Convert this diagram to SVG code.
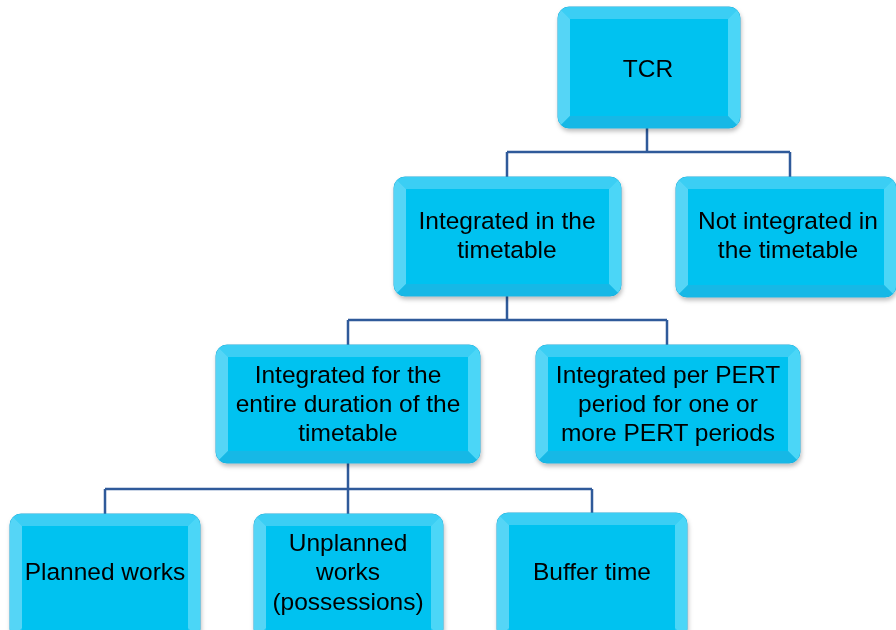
<svg xmlns="http://www.w3.org/2000/svg" width="896" height="630" viewBox="0 0 896 630">
<defs>
<style>
.base{fill:#22C6F1;stroke:#1FA9D6;stroke-width:1}
.face{fill:#02C2F0}
.lt{fill:#55D5F6}
.tp{fill:#3ACEF4}
.rt{fill:#4CD6F7}
.bt{fill:#14B8E6}
.lbl{font-family:"Liberation Sans",Arial,sans-serif;font-size:24.5px;fill:#000;text-anchor:middle}
.conn{fill:none;stroke:#2F5A9A;stroke-width:2.5}
</style>
<filter id="sh" x="-10%" y="-10%" width="120%" height="130%">
<feDropShadow dx="1" dy="3" stdDeviation="2" flood-color="#000" flood-opacity="0.25"/>
</filter>
<clipPath id="c1"><rect x="558" y="7" width="182" height="121" rx="11"/></clipPath>
<clipPath id="c2"><rect x="394" y="177" width="227" height="119" rx="11"/></clipPath>
<clipPath id="c3"><rect x="676" y="177" width="220" height="120" rx="11"/></clipPath>
<clipPath id="c4"><rect x="216" y="345" width="264" height="118" rx="11"/></clipPath>
<clipPath id="c5"><rect x="536" y="345" width="264" height="118" rx="11"/></clipPath>
<clipPath id="c6"><rect x="10" y="514" width="190" height="126" rx="11"/></clipPath>
<clipPath id="c7"><rect x="254" y="514" width="189" height="126" rx="11"/></clipPath>
<clipPath id="c8"><rect x="497" y="513" width="190" height="127" rx="11"/></clipPath>
</defs>
<rect width="896" height="630" fill="#fff"/>

<g id="connectors">
<path class="conn" d="M647 128V152M507 152H790M507 152V177M790 152V177"/>
<path class="conn" d="M507 296V320M348 320H667M348 320V345M667 320V345"/>
<path class="conn" d="M348 463V489M105 489H592M105 489V514M348 489V514M592 489V513"/>
</g>

<g id="node-tcr" filter="url(#sh)">
<rect class="base" x="558" y="7" width="182" height="121" rx="11"/>
<g clip-path="url(#c1)">
<polygon class="tp" points="558,7 740,7 728,19 570,19"/>
<polygon class="lt" points="558,7 570,19 570,116 558,128"/>
<polygon class="rt" points="740,7 740,128 728,116 728,19"/>
<polygon class="bt" points="558,128 740,128 728,116 570,116"/>
</g>
<rect class="face" x="570" y="19" width="158" height="97"/>
<text class="lbl" x="648" y="77">TCR</text>
</g>

<g id="node-integrated" filter="url(#sh)">
<rect class="base" x="394" y="177" width="227" height="119" rx="11"/>
<g clip-path="url(#c2)">
<polygon class="tp" points="394,177 621,177 609,189 406,189"/>
<polygon class="lt" points="394,177 406,189 406,284 394,296"/>
<polygon class="rt" points="621,177 621,296 609,284 609,189"/>
<polygon class="bt" points="394,296 621,296 609,284 406,284"/>
</g>
<rect class="face" x="406" y="189" width="203" height="95"/>
<text class="lbl" x="507" y="229">Integrated in the</text>
<text class="lbl" x="507" y="258">timetable</text>
</g>

<g id="node-not-integrated" filter="url(#sh)">
<rect class="base" x="676" y="177" width="220" height="120" rx="11"/>
<g clip-path="url(#c3)">
<polygon class="tp" points="676,177 896,177 884,189 688,189"/>
<polygon class="lt" points="676,177 688,189 688,285 676,297"/>
<polygon class="rt" points="896,177 896,297 884,285 884,189"/>
<polygon class="bt" points="676,297 896,297 884,285 688,285"/>
</g>
<rect class="face" x="688" y="189" width="196" height="96"/>
<text class="lbl" x="788" y="229">Not integrated in</text>
<text class="lbl" x="788" y="258">the timetable</text>
</g>

<g id="node-entire" filter="url(#sh)">
<rect class="base" x="216" y="345" width="264" height="118" rx="11"/>
<g clip-path="url(#c4)">
<polygon class="tp" points="216,345 480,345 468,357 228,357"/>
<polygon class="lt" points="216,345 228,357 228,451 216,463"/>
<polygon class="rt" points="480,345 480,463 468,451 468,357"/>
<polygon class="bt" points="216,463 480,463 468,451 228,451"/>
</g>
<rect class="face" x="228" y="357" width="240" height="94"/>
<text class="lbl" x="348" y="383">Integrated for the</text>
<text class="lbl" x="348" y="412">entire duration of the</text>
<text class="lbl" x="348" y="441">timetable</text>
</g>

<g id="node-pert" filter="url(#sh)">
<rect class="base" x="536" y="345" width="264" height="118" rx="11"/>
<g clip-path="url(#c5)">
<polygon class="tp" points="536,345 800,345 788,357 548,357"/>
<polygon class="lt" points="536,345 548,357 548,451 536,463"/>
<polygon class="rt" points="800,345 800,463 788,451 788,357"/>
<polygon class="bt" points="536,463 800,463 788,451 548,451"/>
</g>
<rect class="face" x="548" y="357" width="240" height="94"/>
<text class="lbl" x="668" y="383">Integrated per PERT</text>
<text class="lbl" x="668" y="412">period for one or</text>
<text class="lbl" x="668" y="441">more PERT periods</text>
</g>

<g id="node-planned" filter="url(#sh)">
<rect class="base" x="10" y="514" width="190" height="126" rx="11"/>
<g clip-path="url(#c6)">
<polygon class="tp" points="10,514 200,514 188,526 22,526"/>
<polygon class="lt" points="10,514 22,526 22,628 10,640"/>
<polygon class="rt" points="200,514 200,640 188,628 188,526"/>
</g>
<rect class="face" x="22" y="526" width="166" height="104"/>
<text class="lbl" x="105" y="580">Planned works</text>
</g>

<g id="node-unplanned" filter="url(#sh)">
<rect class="base" x="254" y="514" width="189" height="126" rx="11"/>
<g clip-path="url(#c7)">
<polygon class="tp" points="254,514 443,514 431,526 266,526"/>
<polygon class="lt" points="254,514 266,526 266,628 254,640"/>
<polygon class="rt" points="443,514 443,640 431,628 431,526"/>
</g>
<rect class="face" x="266" y="526" width="165" height="104"/>
<text class="lbl" x="348" y="551">Unplanned</text>
<text class="lbl" x="348" y="580">works</text>
<text class="lbl" x="348" y="610">(possessions)</text>
</g>

<g id="node-buffer" filter="url(#sh)">
<rect class="base" x="497" y="513" width="190" height="127" rx="11"/>
<g clip-path="url(#c8)">
<polygon class="tp" points="497,513 687,513 675,525 509,525"/>
<polygon class="lt" points="497,513 509,525 509,628 497,640"/>
<polygon class="rt" points="687,513 687,640 675,628 675,525"/>
</g>
<rect class="face" x="509" y="525" width="166" height="105"/>
<text class="lbl" x="592" y="580">Buffer time</text>
</g>
</svg>
